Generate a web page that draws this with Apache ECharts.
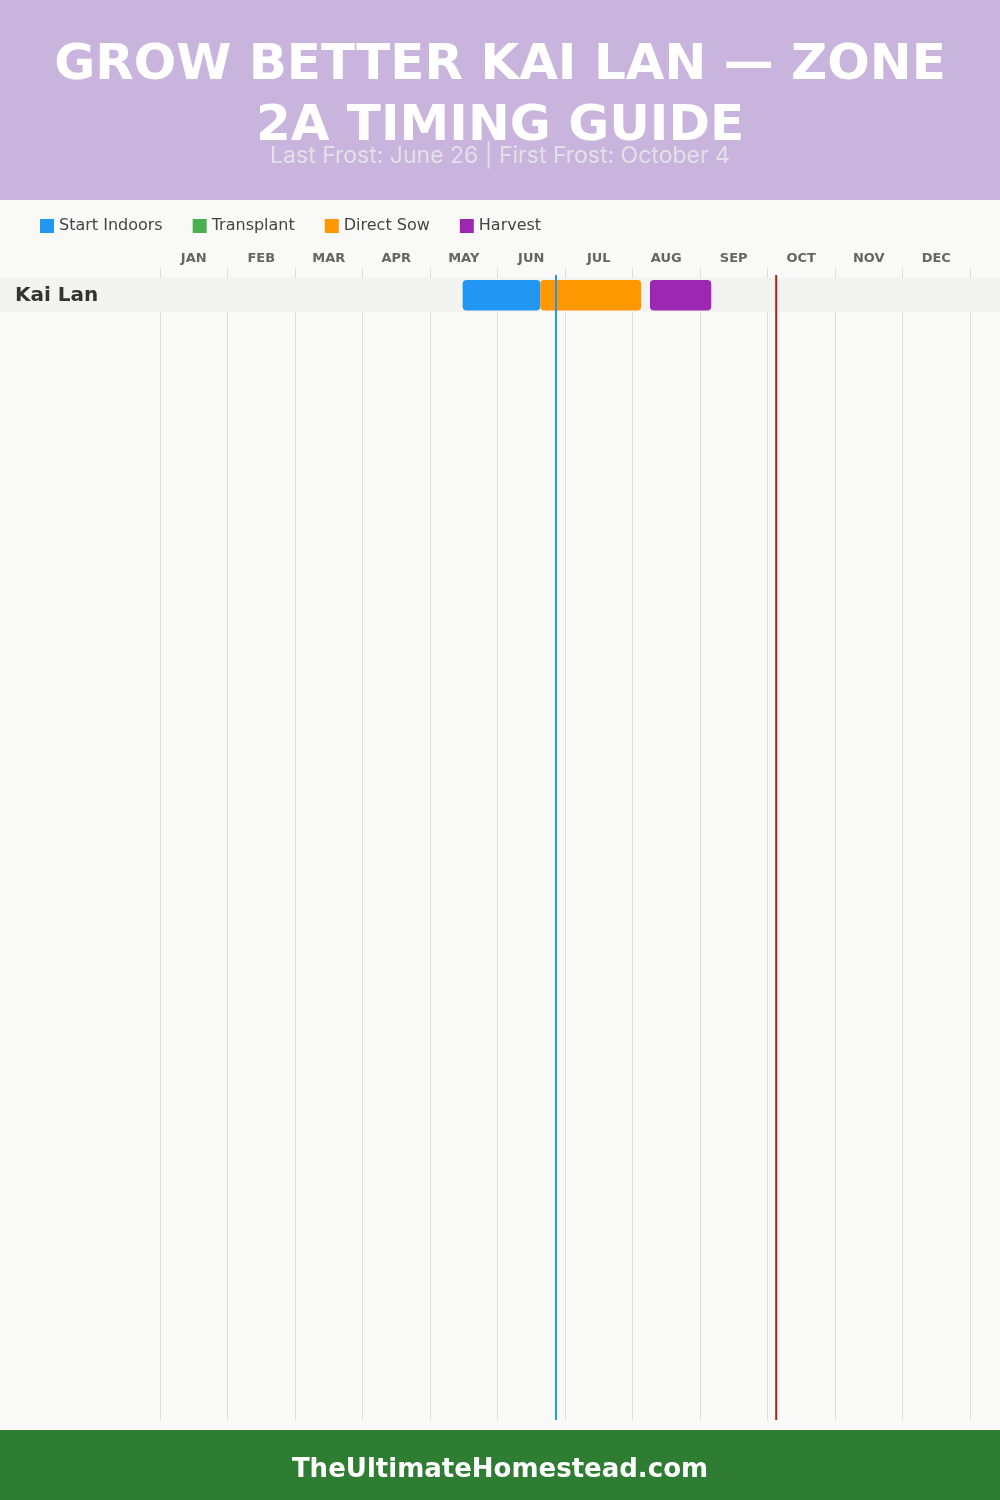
<!DOCTYPE html>
<html>
<head>
<meta charset="utf-8">
<script src="https://cdn.jsdelivr.net/npm/echarts@6/dist/echarts.min.js"></script>
<style>
  html, body { margin: 0; padding: 0; background: #F9F9F7; }
  #chart { width: 1000px; height: 1500px; }
</style>
</head>
<body>
<div id="chart"></div>
<script>
// ---- data ----
const months = ['JAN','FEB','MAR','APR','MAY','JUN','JUL','AUG','SEP','OCT','NOV','DEC'];
const daysInMonth = [31,28,31,30,31,30,31,31,30,31,30,31];
const crops = ['Kai Lan'];
const phases = ['Start Indoors','Transplant','Direct Sow','Harvest'];
const phaseColors = ['#2196F3','#4CAF50','#FF9800','#9C27B0'];
// [crop index, from [month, day], to [month, day]]
const startIndoors = [[0, [5, 15], [6, 19]]];
const transplant = [];
const directSow = [[0, [6, 19], [8, 4]]];
const harvest = [[0, [8, 8], [9, 5]]];
const lastFrost = [6, 26];
const firstFrost = [10, 4];
const titleText = 'GROW BETTER KAI LAN — ZONE\n2A TIMING GUIDE';
const subtitleText = 'Last Frost: June 26 | First Frost: October 4';
const footerText = 'TheUltimateHomestead.com';

// ---- helpers ----
function pos(md) { return (md[0] - 1) + md[1] / daysInMonth[md[0] - 1]; }
function toBars(list) { return list.map(r => [pos(r[1]), pos(r[2]), r[0]]); }

const ROW_PX = 34;
const GRID_TOP = 268, GRID_BOTTOM_PX = 1420;
const yMin = -10 / ROW_PX;
const yMax = yMin + (GRID_BOTTOM_PX - GRID_TOP) / ROW_PX;
const WIDE = '"DejaVu Sans", Verdana, sans-serif';

const chart = echarts.init(document.getElementById('chart'), null, { renderer: 'canvas' });

function barRender(params, api) {
  const s = api.coord([api.value(0), api.value(2)]);
  const e = api.coord([api.value(1), api.value(2)]);
  const top = s[1] + 2;
  return {
    type: 'rect',
    shape: { x: s[0], y: top, width: e[0] - s[0], height: 30.5, r: 4 },
    style: { fill: api.visual('color') }
  };
}

const phaseData = [startIndoors, transplant, directSow, harvest];
const barSeries = phases.map((name, i) => ({
  name: name,
  type: 'custom',
  xAxisIndex: 1,
  yAxisIndex: 0,
  itemStyle: { color: phaseColors[i] },
  encode: { x: [0, 1], y: 2 },
  data: toBars(phaseData[i]),
  renderItem: barRender,
  z: 3
}));

const option = {
  backgroundColor: '#F9F9F7',
  animation: false,
  graphic: [
    { type: 'rect', z: -10, shape: { x: 0, y: 0, width: 1000, height: 200 }, style: { fill: '#C8B4DC' } },
    { type: 'rect', z: -10, shape: { x: 0, y: 1430, width: 1000, height: 70 }, style: { fill: '#2E7D32' } },
    { type: 'text', z: 10, left: 'center', top: 1457,
      style: { text: footerText, fill: '#FFFFFF', font: 'bold 26px ' + WIDE } }
  ],
  title: [
    { text: titleText, left: 'center', top: 31, z: 10,
      textStyle: { color: '#FFFFFF', fontSize: 50, fontWeight: 'bold', lineHeight: 61,
        fontFamily: WIDE } },
    { text: subtitleText, left: 'center', top: 139, z: 10,
      textStyle: { color: '#E4E0E8', fontSize: 23, fontWeight: 400, lineHeight: 24,
        fontFamily: 'Inter, "Open Sans", sans-serif' } }
  ],
  legend: {
    left: 40, top: 218, padding: 0,
    itemWidth: 14, itemHeight: 14, itemGap: 30,
    icon: 'rect', selectedMode: false,
    data: phases,
    textStyle: { color: '#444', fontSize: 16, fontFamily: WIDE }
  },
  grid: { left: 160, right: 30, top: GRID_TOP, height: GRID_BOTTOM_PX - GRID_TOP },
  xAxis: [
    { type: 'category', position: 'top', data: months, boundaryGap: true,
      axisLine: { show: false }, axisTick: { show: false }, splitLine: { show: false },
      axisLabel: { margin: 3, color: '#666', fontSize: 13, fontWeight: 'bold',
        fontFamily: WIDE } },
    { type: 'value', position: 'top', min: 0, max: 12, interval: 1,
      axisLine: { show: false }, axisTick: { show: false }, axisLabel: { show: false },
      splitLine: { show: true, lineStyle: { color: '#DDDDDD', width: 1 } } }
  ],
  yAxis: { type: 'value', inverse: true, min: yMin, max: yMax, show: false, splitLine: { show: false } },
  series: [
    { name: 'rows', type: 'custom', xAxisIndex: 1, yAxisIndex: 0, z: 1,
      data: crops.map((c, i) => [0, i]),
      encode: { x: 0, y: 1 },
      renderItem: function (params, api) {
        const row = api.value(1);
        const top = api.coord([0, row])[1];
        const bot = api.coord([0, row + 1])[1];
        return { type: 'group', children: [
          { type: 'rect', shape: { x: 0, y: top, width: api.getWidth(), height: bot - top },
            style: { fill: '#F3F3F1' } },
          { type: 'text', style: { text: crops[row], x: 15, y: (top + bot) / 2 + 1,
              verticalAlign: 'middle', fill: '#333',
              font: 'bold 20px ' + WIDE } }
        ] };
      }
    },
    ...barSeries,
    { name: 'frost', type: 'custom', xAxisIndex: 1, yAxisIndex: 0, z: 5,
      data: [[pos(lastFrost), 0], [pos(firstFrost), 1]],
      encode: { x: 0 },
      renderItem: function (params, api) {
        const x = api.coord([api.value(0), 0])[0];
        const top = api.coord([api.value(0), 0])[1] - 3;
        const bot = api.coord([api.value(0), yMax])[1];
        const color = api.value(1) === 0 ? '#2196F3' : '#B71C1C';
        return { type: 'line', shape: { x1: x, y1: top, x2: x, y2: bot },
          style: { stroke: color, lineWidth: 2 } };
      }
    }
  ]
};
chart.setOption(option);
</script>
</body>
</html>
